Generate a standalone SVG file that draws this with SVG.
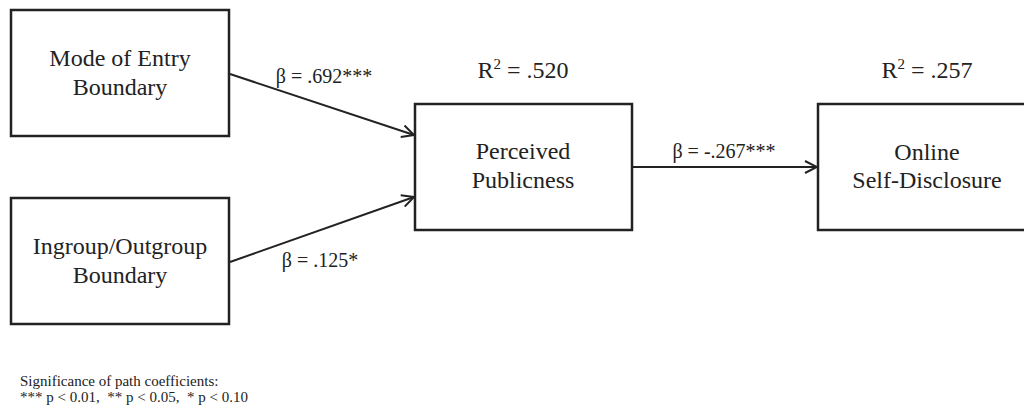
<svg xmlns="http://www.w3.org/2000/svg" width="1024" height="412" viewBox="0 0 1024 412">
<defs>
<style>
.box{fill:#fff;stroke:#222;stroke-width:2.5}
.t{font-family:"Liberation Serif","Times New Roman",serif;font-size:24px;fill:#222;text-anchor:middle}
.b{font-family:"Liberation Serif","Times New Roman",serif;font-size:20px;fill:#222;text-anchor:middle}
.n{font-family:"Liberation Serif","Times New Roman",serif;font-size:15px;fill:#222}
.c{fill:none;stroke:#222;stroke-width:2}
</style>
<marker id="arr" viewBox="0 0 14 14" refX="13" refY="7" markerWidth="14" markerHeight="14" markerUnits="userSpaceOnUse" orient="auto">
<path d="M1,1 L13,7 L1,13" fill="none" stroke="#222" stroke-width="2"/>
</marker>
</defs>
<rect width="1024" height="412" fill="#fff"/>
<g id="connectors">
<line class="c" x1="230" y1="74" x2="414" y2="135" marker-end="url(#arr)"/>
<line class="c" x1="230" y1="262" x2="414" y2="197" marker-end="url(#arr)"/>
<line class="c" x1="632" y1="167" x2="817" y2="167" marker-end="url(#arr)"/>
<text class="b" x="324" y="83">β = .692***</text>
<text class="b" x="320" y="267">β = .125*</text>
<text class="b" x="724" y="158">β = -.267***</text>
</g>
<g id="mode">
<rect class="box" x="11" y="10" width="218" height="126"/>
<text class="t" x="120" y="66">Mode of Entry</text>
<text class="t" x="120" y="95">Boundary</text>
</g>
<g id="ingroup">
<rect class="box" x="11" y="198" width="218" height="126"/>
<text class="t" x="120" y="254">Ingroup/Outgroup</text>
<text class="t" x="120" y="283">Boundary</text>
</g>
<g id="publicness">
<rect class="box" x="415" y="104" width="217" height="126"/>
<text class="t" x="523" y="78">R<tspan font-size="15" dy="-9">2</tspan><tspan dy="9"> = .520</tspan></text>
<text class="t" x="523" y="159">Perceived</text>
<text class="t" x="523" y="188">Publicness</text>
</g>
<g id="disclosure">
<rect class="box" x="818" y="104" width="222" height="126"/>
<text class="t" x="927" y="78">R<tspan font-size="15" dy="-9">2</tspan><tspan dy="9"> = .257</tspan></text>
<text class="t" x="927" y="160">Online</text>
<text class="t" x="927" y="188">Self-Disclosure</text>
</g>
<g id="note">
<text class="n" x="20" y="386">Significance of path coefficients:</text>
<text class="n" x="20" y="402" xml:space="preserve">*** p &lt; 0.01,  ** p &lt; 0.05,  * p &lt; 0.10</text>
</g>
</svg>
